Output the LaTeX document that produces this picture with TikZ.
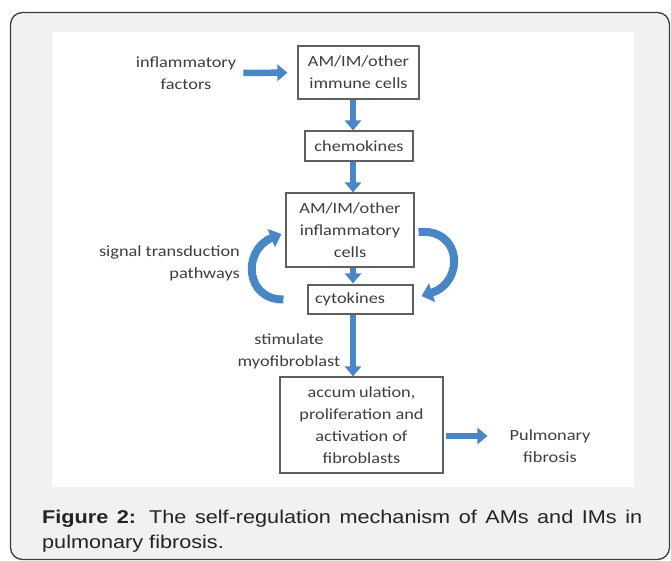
\documentclass[tikz,border=0pt]{standalone}
\usepackage{fontspec}
\usetikzlibrary{arrows.meta}
\newfontfamily\diagfont[FakeStretch=1.18]{Carlito}
\newfontfamily\capfont[FakeStretch=1.17]{Liberation Sans}
\definecolor{framebg}{RGB}{240,241,243}
\definecolor{frameline}{RGB}{60,60,60}
\definecolor{boxgray}{RGB}{95,95,95}
\definecolor{txtgray}{RGB}{62,62,62}
\definecolor{captxt}{RGB}{35,35,35}
\definecolor{arrblue}{RGB}{72,134,198}
\tikzset{
  box/.style={draw=boxgray, line width=1.1pt, fill=white, font=\diagfont\fontsize{15.5}{22}\selectfont, text=txtgray, align=center, inner sep=0pt},
  lbl/.style={font=\diagfont\fontsize{15.5}{22}\selectfont, text=txtgray, align=center, inner sep=2pt},
  barrow/.style={draw=arrblue, line width=6.5pt, -{Triangle[length=10pt,width=16pt]}},
  carrow/.style={draw=arrblue, line width=8pt, -{Triangle[length=11pt,width=19pt]}},
  capstyle/.style={font=\capfont\fontsize{18.5}{25}\selectfont, text=captxt, inner sep=0pt}
}
\begin{document}
\begin{tikzpicture}[x=1pt,y=-1pt]
\useasboundingbox (0,0) rectangle (671,561);
% frame and panel
\draw[frameline, line width=1.3pt, fill=framebg, rounded corners=12pt] (10.5,12.5) rectangle (669.5,559.5);
\fill[white] (52,32) rectangle (634,487);

% boxes
\node[box, minimum width=121pt, minimum height=53pt] (box1) at (358.5,72.5) {AM/IM/other\\immune cells};
\node[box, minimum width=108pt, minimum height=30pt] (chem) at (359,146) {chemokines};
\node[box, minimum width=128pt, minimum height=74pt] (box3) at (350,230) {AM/IM/other\\inflammatory\\cells};
\node[box, text width=91pt, align=left, inner xsep=7pt, minimum height=29pt] (cyto) at (360.5,299.5) {cytokines};
\node[box, minimum width=163pt, minimum height=96pt] (box4) at (361.5,425) {accum\hspace{3pt}ulation,\\proliferation and\\activation of\\fibroblasts};

% labels
\node[lbl] (infl) at (186,73) {inflammatory\\factors};
\node[lbl, align=right, anchor=east] (signal) at (242,263.5) {signal transduction\\pathways};
\node[lbl] (stim) at (289,351.5) {stimulate\\myofibroblast};
\node[lbl] (pulm) at (550,446) {Pulmonary\\fibrosis};

% helper coordinates
\coordinate (vx) at (353,0);
\coordinate (h5) at (0,436);

% straight arrows
\draw[barrow, shorten <=5pt, shorten >=10pt] (infl) -- (box1);
\draw[barrow] (box1.south -| vx) -- (chem.north -| vx);
\draw[barrow] (chem.south -| vx) -- (box3.north -| vx);
\draw[barrow] (box3.south -| vx) -- ([yshift=1pt]cyto.north -| vx);
\draw[barrow] (cyto.south -| vx) -- (box4.north -| vx);
\draw[barrow, shorten <=2pt, shorten >=20pt] (box4.east |- h5) -- (pulm.west |- h5);

% curved arrows
\draw[carrow] ([xshift=-24pt]cyto.west) .. controls (245,300) and (242,250) .. ([shift={(-4,4)}]box3.west);
\draw[carrow] ([shift={(4,2)}]box3.east) .. controls (462,228) and (465,282) .. ([shift={(8,-3.5)}]cyto.east);

% caption
\node[capstyle, anchor=base west] (cap1) at (42,523) {\makebox[600pt][s]{\textbf{Figure 2:} The self-regulation mechanism of AMs and IMs in}};
\node[capstyle, anchor=base west] (cap2) at (42,548) {pulmonary fibrosis.};
\end{tikzpicture}
\end{document}
